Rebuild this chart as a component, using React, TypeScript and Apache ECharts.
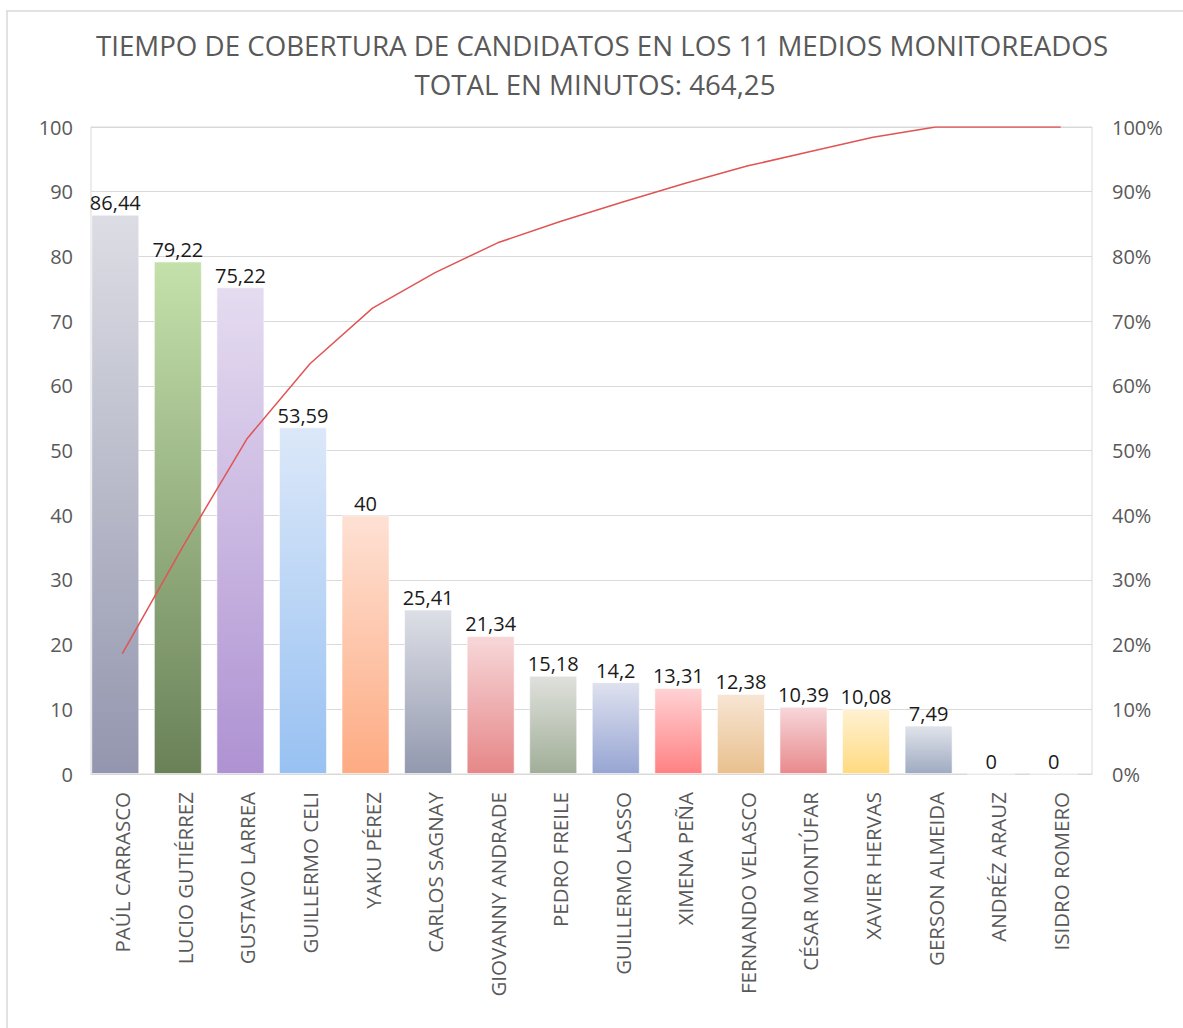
import React, { useEffect, useRef } from "react";
import * as echarts from "echarts";

const titleLines = [
  "TIEMPO DE COBERTURA DE CANDIDATOS EN LOS 11 MEDIOS MONITOREADOS",
  "TOTAL EN MINUTOS: 464,25",
];

const categories = [
  "PAÚL CARRASCO",
  "LUCIO GUTIÉRREZ",
  "GUSTAVO LARREA",
  "GUILLERMO CELI",
  "YAKU PÉREZ",
  "CARLOS SAGNAY",
  "GIOVANNY ANDRADE",
  "PEDRO FREILE",
  "GUILLERMO LASSO",
  "XIMENA PEÑA",
  "FERNANDO VELASCO",
  "CÉSAR MONTÚFAR",
  "XAVIER HERVAS",
  "GERSON ALMEIDA",
  "ANDRÉZ ARAUZ",
  "ISIDRO ROMERO",
];

const minutes = [86.44, 79.22, 75.22, 53.59, 40, 25.41, 21.34, 15.18, 14.2, 13.31, 12.38, 10.39, 10.08, 7.49, 0, 0];

const cumulativePct = [18.6, 35.7, 51.9, 63.4, 72.0, 77.5, 82.1, 85.4, 88.4, 91.3, 94.0, 96.2, 98.4, 100, 100, 100];

const barTopColors = [
  "#dcdde4", "#c4e1ab", "#e5dcf0", "#dce8f9", "#fee1d4", "#dddfe6", "#f7d7d9", "#dfe1dc",
  "#dee1ef", "#ffd2d4", "#f7e5d4", "#f7d6da", "#fff1d2", "#e0e3ea", "#dce6f5", "#fde3dc",
];
const barBottomColors = [
  "#9396ae", "#6a8158", "#ae92d2", "#98c1f2", "#fdab82", "#9298ae", "#e68788", "#a1ae98",
  "#97a5d3", "#ff8183", "#e9c08d", "#e88a8c", "#ffda80", "#9fabc2", "#b8c8e0", "#f8c0b0",
];

const leftTicks = { min: 0, max: 100, interval: 10 };
const rightTicks = { min: 0, max: 100, interval: 10 };

const FONT = "'Open Sans', 'Noto Sans', sans-serif";

export default function App() {
  const ref = useRef<HTMLDivElement>(null);

  useEffect(() => {
    if (!ref.current) return;
    const chart = echarts.init(ref.current, null, { renderer: "svg" });
    const barData = minutes.map((v, i) => ({
      value: v,
      itemStyle: {
        color: new echarts.graphic.LinearGradient(0, 0, 0, 1, [
          { offset: 0, color: barTopColors[i] },
          { offset: 1, color: barBottomColors[i] },
        ]),
        borderColor: "rgba(255,255,255,0.55)",
        borderWidth: 1,
      },
    }));

    chart.setOption({
      animation: false,
      backgroundColor: "#ffffff",
      textStyle: { fontFamily: FONT },
      graphic: [
        {
          type: "rect",
          shape: { x: 7, y: 11, width: 1200, height: 1040 },
          style: { fill: "none", stroke: "#d9d9d9", lineWidth: 1.5 },
          silent: true,
        },
        {
          type: "text",
          x: 602,
          y: 45,
          style: {
            text: titleLines[0],
            fill: "#595959",
            font: `27.7px ${FONT}`,
            textAlign: "center",
            textVerticalAlign: "middle",
          },
        },
        {
          type: "text",
          x: 595,
          y: 84,
          style: {
            text: titleLines[1],
            fill: "#595959",
            font: `27.7px ${FONT}`,
            textAlign: "center",
            textVerticalAlign: "middle",
          },
        },
      ],
      grid: [
        {
          left: 91,
          right: 91,
          top: 127,
          bottom: 254,
          show: true,
          borderColor: "#d9d9d9",
          borderWidth: 1,
        },
        {
          left: 84,
          right: 98,
          top: 127,
          bottom: 254,
          show: false,
        },
      ],
      xAxis: [
        {
          type: "category",
          gridIndex: 0,
          data: categories,
          axisLine: { show: true, lineStyle: { color: "#d9d9d9", width: 1 } },
          axisTick: { show: false },
          axisLabel: {
            rotate: 90,
            interval: 0,
            color: "#595959",
            fontSize: 20.5,
            fontFamily: FONT,
            margin: 18,
          },
        },
        {
          type: "category",
          gridIndex: 1,
          data: categories,
          show: false,
        },
      ],
      yAxis: [
        {
          type: "value",
          gridIndex: 0,
          min: leftTicks.min,
          max: leftTicks.max,
          interval: leftTicks.interval,
          axisLine: { show: false },
          axisTick: { show: false },
          splitLine: { lineStyle: { color: "#d9d9d9", width: 1 } },
          axisLabel: { color: "#595959", fontSize: 20, fontFamily: FONT, margin: 18 },
        },
        {
          type: "value",
          gridIndex: 0,
          min: rightTicks.min,
          max: rightTicks.max,
          interval: rightTicks.interval,
          position: "right",
          axisLine: { show: false },
          axisTick: { show: false },
          splitLine: { show: false },
          axisLabel: {
            color: "#595959",
            fontSize: 20,
            fontFamily: FONT,
            margin: 20,
            formatter: "{value}%",
          },
        },
        {
          type: "value",
          gridIndex: 1,
          min: leftTicks.min,
          max: leftTicks.max,
          interval: leftTicks.interval,
          show: false,
          splitLine: { show: false },
        },
      ],
      series: [
        {
          type: "bar",
          data: barData,
          barWidth: 48,
          xAxisIndex: 1,
          yAxisIndex: 2,
          label: {
            show: true,
            position: "top",
            distance: 2,
            color: "#1a1a1a",
            fontSize: 20,
            fontFamily: FONT,
            formatter: (p: any) => String(p.value).replace(".", ","),
          },
        },
        {
          type: "line",
          data: cumulativePct,
          xAxisIndex: 0,
          yAxisIndex: 1,
          showSymbol: false,
          symbol: "none",
          lineStyle: { color: "#e05454", width: 1.5 },
          z: 5,
        },
      ],
    });

    return () => chart.dispose();
  }, []);

  return (
    <div
      ref={ref}
      style={{ position: "fixed", left: 0, top: 0, width: 1183, height: 1028 }}
    />
  );
}
